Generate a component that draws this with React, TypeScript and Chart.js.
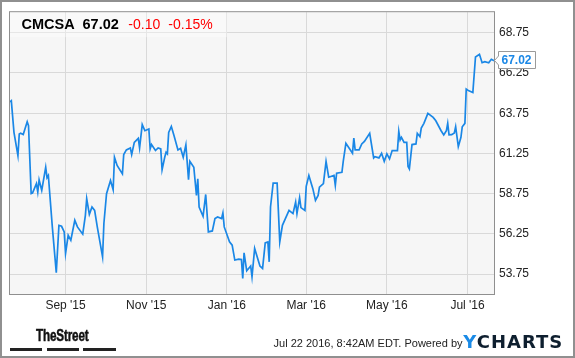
import React, { useEffect, useRef } from "react";
import { Chart, registerables } from "chart.js";

Chart.register(...registerables);

const TICKER = "CMCSA";
const LAST_PRICE = "67.02";
const CHANGE = "-0.10";
const CHANGE_PCT = "-0.15%";
const TIMESTAMP = "Jul 22 2016, 8:42AM EDT. Powered by";

const START_DATE = "2015-07-21";
const END_DATE = "2016-07-21";

const dates = [
  "2015-07-21", "2015-07-22", "2015-07-24", "2015-07-27", "2015-07-28", "2015-07-29", "2015-07-31",
  "2015-08-03", "2015-08-04", "2015-08-06", "2015-08-07", "2015-08-10", "2015-08-11", "2015-08-12",
  "2015-08-14", "2015-08-17", "2015-08-18", "2015-08-19", "2015-08-22", "2015-08-25", "2015-08-27",
  "2015-08-29", "2015-08-31", "2015-09-01", "2015-09-03", "2015-09-05", "2015-09-08", "2015-09-10",
  "2015-09-14", "2015-09-16", "2015-09-17", "2015-09-19", "2015-09-21", "2015-09-23", "2015-09-25",
  "2015-09-29", "2015-09-30", "2015-10-02", "2015-10-05", "2015-10-07", "2015-10-08", "2015-10-10",
  "2015-10-14", "2015-10-15", "2015-10-17", "2015-10-20", "2015-10-21", "2015-10-23", "2015-10-26",
  "2015-10-27", "2015-10-29", "2015-10-31", "2015-11-03", "2015-11-04", "2015-11-05", "2015-11-08",
  "2015-11-10", "2015-11-12", "2015-11-13", "2015-11-15", "2015-11-16", "2015-11-17", "2015-11-18",
  "2015-11-20", "2015-11-22", "2015-11-25", "2015-11-27", "2015-11-29", "2015-12-01", "2015-12-03",
  "2015-12-04", "2015-12-07", "2015-12-09", "2015-12-10", "2015-12-11", "2015-12-14", "2015-12-16",
  "2015-12-18", "2015-12-21", "2015-12-23", "2015-12-25", "2015-12-28", "2015-12-29", "2015-12-30",
  "2016-01-03", "2016-01-05", "2016-01-07", "2016-01-10", "2016-01-12", "2016-01-13", "2016-01-14",
  "2016-01-16", "2016-01-19", "2016-01-20", "2016-01-22", "2016-01-26", "2016-01-28", "2016-01-30",
  "2016-02-01", "2016-02-02", "2016-02-03", "2016-02-05", "2016-02-08", "2016-02-10", "2016-02-12",
  "2016-02-17", "2016-02-20", "2016-02-22", "2016-02-23", "2016-02-25", "2016-02-26", "2016-02-29",
  "2016-03-01", "2016-03-03", "2016-03-06", "2016-03-08", "2016-03-10", "2016-03-11", "2016-03-14",
  "2016-03-16", "2016-03-18", "2016-03-22", "2016-03-23", "2016-03-24", "2016-03-28", "2016-03-29",
  "2016-03-31", "2016-04-05", "2016-04-06", "2016-04-07", "2016-04-10", "2016-04-12", "2016-04-14",
  "2016-04-18", "2016-04-21", "2016-04-22", "2016-04-25", "2016-04-27", "2016-04-29", "2016-05-01",
  "2016-05-03", "2016-05-05", "2016-05-09", "2016-05-10", "2016-05-11", "2016-05-12", "2016-05-14",
  "2016-05-16", "2016-05-17", "2016-05-18", "2016-05-20", "2016-05-23", "2016-05-24", "2016-05-26",
  "2016-05-27", "2016-05-29", "2016-06-01", "2016-06-05", "2016-06-07", "2016-06-11", "2016-06-13",
  "2016-06-15", "2016-06-16", "2016-06-17", "2016-06-19", "2016-06-21", "2016-06-22", "2016-06-24",
  "2016-06-26", "2016-06-27", "2016-06-29", "2016-06-30", "2016-07-02", "2016-07-05", "2016-07-07",
  "2016-07-10", "2016-07-12", "2016-07-14", "2016-07-17", "2016-07-19", "2016-07-21",
];

const prices = [
  64.45, 64.52, 62.56, 61.12, 62.46, 62.5, 62.42,
  63.22, 62.97, 58.75, 58.78, 59.37, 58.85, 59.61,
  58.95, 60.39, 59.74, 59.88, 56.68, 53.83, 56.78,
  56.72, 56.37, 55.03, 56.16, 55.85, 57.09, 56.68,
  56.23, 57.4, 58.44, 57.46, 57.92, 57.71, 56.68,
  54.82, 56.89, 58.75, 59.57, 58.99, 61.01, 60.5,
  59.98, 61.18, 61.47, 61.59, 61.18, 61.94, 62.19,
  61.59, 63.04, 62.66, 62.77, 61.53, 61.8, 61.43,
  61.59, 61.53, 60.23, 61.01, 61.32, 61.22, 62.56,
  62.93, 62.36, 61.47, 61.57, 61.01, 61.78, 59.61,
  60.76, 60.39, 58.64, 59.67, 57.92, 57.34, 58.7,
  56.37, 56.43, 57.2, 57.3, 57.2, 57.55, 56.68,
  55.75, 55.55, 54.62, 54.68, 54.66, 53.48, 55.07,
  53.95, 54.25, 53.58, 55.34, 54.25, 54.1, 55.69,
  55.75, 54.51, 57.92, 59.4, 59.4, 55.75, 56.78,
  57.71, 57.51, 58.23, 57.51, 58.5, 57.88, 57.71,
  59.2, 59.88, 59.06, 58.33, 58.64, 59.15, 59.37,
  60.75, 59.77, 59.88, 59.26, 60.02, 60.08, 60.75,
  61.88, 61.26, 62.21, 61.47, 61.47, 61.84, 62.0,
  62.5, 60.97, 61.05, 60.97, 61.26, 60.76, 61.22,
  60.91, 61.43, 61.43, 62.62, 62.09, 62.25, 61.94,
  61.94, 60.44, 60.29, 61.8, 61.84, 62.5, 62.29,
  62.83, 63.12, 63.74, 63.49, 63.28, 62.66, 62.4,
  62.66, 63.12, 62.4, 62.42, 62.52, 62.91, 61.67,
  62.25, 62.91, 63.12, 65.25, 65.14, 65.04, 67.25,
  67.41, 66.89, 66.95, 66.89, 67.1, 67.02,
];

const yTickValues = [53.75, 56.25, 58.75, 61.25, 63.75, 66.25, 68.75];
const xTickDates = ["2015-09-01", "2015-11-01", "2016-01-01", "2016-03-01", "2016-05-01", "2016-07-01"];
const xTickLabels = ["Sep '15", "Nov '15", "Jan '16", "Mar '16", "May '16", "Jul '16"];

const Y_MIN = 52.51;
const Y_MAX = 70.03;

const FONT = "'Liberation Sans', Arial, Helvetica, sans-serif";
const LINE_COLOR = "#1a87e6";

function toDay(s: string): number {
  const [y, m, d] = s.split("-").map(Number);
  return Date.UTC(y, m - 1, d) / 86400000;
}
const dayFromStart = (s: string) => Math.round(toDay(s) - toDay(START_DATE));

const framePlugin = {
  id: "frame",
  beforeDraw(chart: any) {
    const { ctx, chartArea } = chart;
    const { left, top, right, bottom } = chartArea;
    ctx.save();
    ctx.fillStyle = "#f6f6f6";
    ctx.fillRect(left, top, right - left, bottom - top);
    ctx.restore();
  },
  afterDatasetsDraw(chart: any) {
    const { ctx, chartArea } = chart;
    const { left, top, right, bottom } = chartArea;
    ctx.save();
    // light panel behind the header
    ctx.fillStyle = "rgba(255,255,255,0.35)";
    ctx.fillRect(left, top, 217, 25);
    ctx.strokeStyle = "#8f8f8f";
    ctx.lineWidth = 1;
    ctx.strokeRect(left - 0.5, top - 0.5, right - left + 1, bottom - top + 1);
    ctx.restore();
  },
  afterDraw(chart: any) {
    const { ctx } = chart;
    const meta = chart.getDatasetMeta(0);
    const pt = meta.data[meta.data.length - 1];
    if (!pt) return;
    const px = pt.x;
    const py = Math.round(pt.y);
    const bx = Math.round(px) + 4.5;
    const top = py - 9.5;
    const bottom = py + 7.5;
    ctx.save();
    ctx.beginPath();
    ctx.moveTo(px + 0.5, py - 0.5);
    ctx.lineTo(bx, py - 5);
    ctx.lineTo(bx, top);
    ctx.lineTo(bx + 37, top);
    ctx.lineTo(bx + 37, bottom);
    ctx.lineTo(bx, bottom);
    ctx.lineTo(bx, py + 4);
    ctx.closePath();
    ctx.fillStyle = "#ffffff";
    ctx.fill();
    ctx.strokeStyle = "#9a9a9a";
    ctx.lineWidth = 1;
    ctx.stroke();
    ctx.fillStyle = LINE_COLOR;
    ctx.font = `bold 12px ${FONT}`;
    ctx.textBaseline = "middle";
    ctx.textAlign = "left";
    ctx.fillText(LAST_PRICE, bx + 3, py - 0.5);
    ctx.restore();
  },
};

export default function App() {
  const canvasRef = useRef<HTMLCanvasElement | null>(null);

  useEffect(() => {
    const canvas = canvasRef.current;
    if (!canvas) return;
    const points = dates.map((d, i) => ({ x: dayFromStart(d), y: prices[i] }));
    const xTickPositions = xTickDates.map(dayFromStart);

    const chart = new Chart(canvas, {
      type: "line",
      data: {
        datasets: [
          {
            data: points,
            borderColor: LINE_COLOR,
            borderWidth: 1.7,
            pointRadius: 0,
            tension: 0,
            fill: false,
          },
        ],
      },
      options: {
        responsive: false,
        animation: false,
        devicePixelRatio: 1,
        events: [],
        layout: { padding: { left: 10, top: 11, right: 2, bottom: 0 } },
        plugins: { legend: { display: false }, tooltip: { enabled: false } },
        scales: {
          x: {
            type: "linear",
            min: 0,
            max: dayFromStart(END_DATE),
            afterBuildTicks: (scale: any) => {
              scale.ticks = xTickPositions.map((v) => ({ value: v }));
            },
            afterFit: (scale: any) => {
              scale.height = 64;
            },
            grid: { color: "#d9d9d9", lineWidth: 1, drawTicks: false },
            border: { display: false },
            ticks: {
              autoSkip: false,
              maxRotation: 0,
              padding: 4,
              color: "#222",
              font: { family: FONT, size: 12 },
              callback: (v: any) => {
                const i = xTickPositions.indexOf(Number(v));
                return i >= 0 ? xTickLabels[i] : "";
              },
            },
          },
          y: {
            type: "linear",
            position: "right",
            min: Y_MIN,
            max: Y_MAX,
            afterBuildTicks: (scale: any) => {
              scale.ticks = yTickValues.map((v) => ({ value: v }));
            },
            afterFit: (scale: any) => {
              scale.width = 79;
            },
            grid: { color: "#d9d9d9", lineWidth: 1, drawTicks: false },
            border: { display: false },
            ticks: {
              padding: 5,
              color: "#222",
              font: { family: FONT, size: 12 },
              callback: (v: any) => Number(v).toFixed(2),
            },
          },
        },
      },
      plugins: [framePlugin],
    } as any);

    return () => chart.destroy();
  }, []);

  const abs = (style: React.CSSProperties): React.CSSProperties => ({ position: "absolute", whiteSpace: "nowrap", ...style });

  return (
    <div style={{ position: "absolute", left: 0, top: 0, width: 575, height: 358, background: "#fff", fontFamily: FONT, overflow: "hidden" }}>
      <canvas ref={canvasRef} width={575} height={358} style={{ position: "absolute", left: 0, top: 0, width: 575, height: 358, display: "block" }} />
      {/* header */}
      <span style={abs({ left: 21.5, top: 16.5, fontSize: 14.5, lineHeight: "14px", fontWeight: "bold", color: "#000" })}>{TICKER}</span>
      <span style={abs({ left: 82.5, top: 16.5, fontSize: 14.5, lineHeight: "14px", fontWeight: "bold", color: "#000" })}>{LAST_PRICE}</span>
      <span style={abs({ left: 128.3, top: 16.5, fontSize: 14, lineHeight: "14px", color: "#ff0000" })}>{CHANGE}</span>
      <span style={abs({ left: 168.3, top: 16.5, fontSize: 14, lineHeight: "14px", color: "#ff0000" })}>{CHANGE_PCT}</span>
      {/* footer: TheStreet */}
      <span style={abs({ left: 36, top: 328.2, fontSize: 16, lineHeight: "16px", fontWeight: "bold", color: "#111", transform: "scaleX(0.73)", transformOrigin: "0 0", letterSpacing: "-0.2px", WebkitTextStroke: "0.5px #111" } as any)}>TheStreet</span>
      <div style={abs({ left: 10, top: 348, width: 32, height: 3, background: "#222" })} />
      <div style={abs({ left: 47, top: 348, width: 32, height: 3, background: "#222" })} />
      <div style={abs({ left: 83, top: 348, width: 33, height: 3, background: "#222" })} />
      {/* footer: timestamp + YCHARTS */}
      <span style={abs({ left: 273.6, top: 338, fontSize: 11, lineHeight: "11px", color: "#222" })}>{TIMESTAMP}</span>
      <span style={abs({ left: 463.3, top: 333.1, fontSize: 18, lineHeight: "18px", fontWeight: "bold", fontFamily: "'DejaVu Sans', sans-serif", letterSpacing: "1px" })}>
        <span style={{ color: "#1a8ae6" }}>Y</span>
        <span style={{ color: "#0e1f2f" }}>CHARTS</span>
      </span>
      {/* outer frame */}
      <div style={abs({ left: 0, top: 0, width: 575, height: 358, boxSizing: "border-box", border: "2px solid #909090", pointerEvents: "none" })} />
    </div>
  );
}
